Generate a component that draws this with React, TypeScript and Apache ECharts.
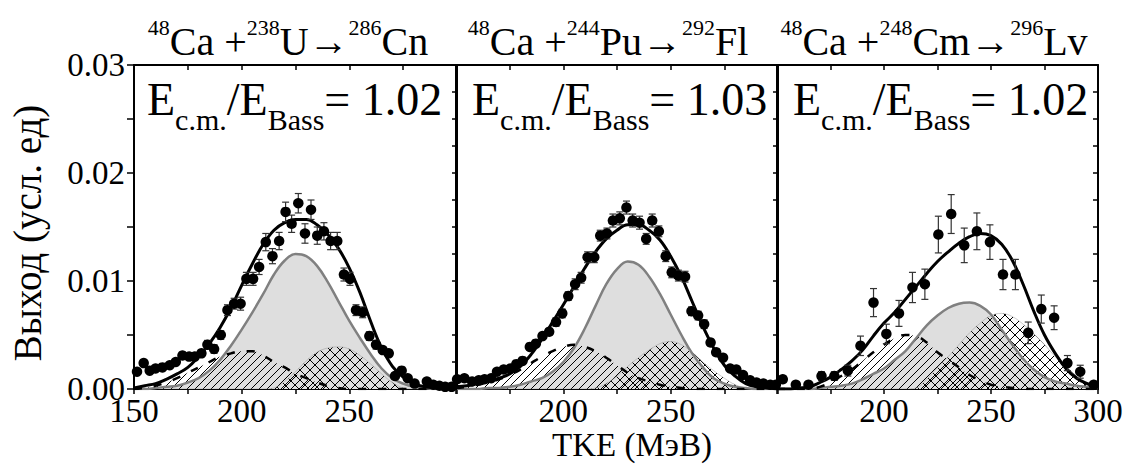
import React, { useEffect, useRef } from "react";
import * as echarts from "echarts";

const FONT = '"Liberation Serif", "Times New Roman", serif';

// Curve sampling grid (TKE, MeV)
const curveE = [150, 155, 160, 165, 170, 175, 180, 185, 190, 195, 200, 205, 210, 215, 220, 225, 230, 235, 240, 245, 250, 255, 260, 265, 270, 275, 280, 285, 290, 295, 300];

// Panel 1: 48Ca + 238U -> 286Cn
const p1Total = [0.0001, 0.0003, 0.0005, 0.0009, 0.0014, 0.002, 0.003, 0.0042, 0.0057, 0.0075, 0.0096, 0.0116, 0.0134, 0.0147, 0.0154, 0.0157, 0.0157, 0.0152, 0.0143, 0.013, 0.0112, 0.0089, 0.0062, 0.0038, 0.0021, 0.0011, 0.0005, 0.0002, 0.0001, 0, 0];
const p1Gray = [0, 0, 0.0001, 0.0002, 0.0003, 0.0006, 0.001, 0.0017, 0.0027, 0.004, 0.0055, 0.0071, 0.0088, 0.0106, 0.0119, 0.0125, 0.0123, 0.0114, 0.0099, 0.0081, 0.0063, 0.0047, 0.0032, 0.0019, 0.001, 0.0005, 0.0002, 0.0001, 0, 0, 0];
const p1Dash = [0, 0.0001, 0.0003, 0.0006, 0.001, 0.0015, 0.002, 0.0025, 0.003, 0.0033, 0.0035, 0.0035, 0.0031, 0.0025, 0.002, 0.0014, 0.001, 0.0006, 0.0003, 0.0001, 0, 0, 0, 0, 0, 0, 0, 0, 0, 0, 0];
const p1Cross = [0, 0, 0, 0, 0, 0, 0, 0, 0, 0, 0, 0, 0, 0.0001, 0.0007, 0.0016, 0.0026, 0.0034, 0.0038, 0.0039, 0.0037, 0.0031, 0.0023, 0.0014, 0.0006, 0.0001, 0, 0, 0, 0, 0];
const p1E = [151.4, 154.5, 157.3, 160, 163.2, 166.6, 169.4, 172.5, 175.6, 178.2, 181.3, 184.1, 187.2, 190.3, 193.4, 196.5, 199.5, 202.2, 205.3, 208.1, 211.2, 214.3, 217.4, 220.4, 223.2, 226.3, 229.4, 232.2, 235.1, 238.2, 241.3, 244.4, 247.5, 250.3, 253.1, 256.2, 259.3, 262.4, 265.5, 268.3, 271.2, 274.3, 277.1, 280.3, 286, 289, 291.8, 294.5, 297.5];
const p1Y = [0.0016, 0.0024, 0.0017, 0.0019, 0.002, 0.0022, 0.0025, 0.0031, 0.003, 0.003, 0.0033, 0.0041, 0.0037, 0.005, 0.0073, 0.0079, 0.0079, 0.0102, 0.0102, 0.0113, 0.0136, 0.0123, 0.0137, 0.0164, 0.0153, 0.0172, 0.0144, 0.0166, 0.0142, 0.0146, 0.0137, 0.0137, 0.0106, 0.0102, 0.0073, 0.0071, 0.0049, 0.0041, 0.0036, 0.0033, 0.0012, 0.0017, 0.001, 0.0005, 0.0007, 0.0004, 0.0003, 0.0002, 0.0002];
const p1Err = [0.0002, 0.0002, 0.0002, 0.0002, 0.0002, 0.0002, 0.0002, 0.0003, 0.0003, 0.0003, 0.0003, 0.0004, 0.0004, 0.0004, 0.0005, 0.0005, 0.0006, 0.0006, 0.0006, 0.0007, 0.0008, 0.0007, 0.0008, 0.0009, 0.0008, 0.0009, 0.0009, 0.0009, 0.0008, 0.0008, 0.0008, 0.0008, 0.0006, 0.0006, 0.0005, 0.0005, 0.0004, 0.0004, 0.0003, 0.0003, 0.0002, 0.0002, 0.0002, 0.0002, 0.0002, 0.0001, 0.0001, 0.0001, 0.0001];

// Panel 2: 48Ca + 244Pu -> 292Fl
const p2Total = [0.0002, 0.0003, 0.0005, 0.0007, 0.001, 0.0014, 0.0021, 0.0032, 0.0046, 0.0062, 0.0078, 0.0095, 0.0112, 0.0127, 0.0139, 0.0147, 0.0152, 0.0152, 0.0147, 0.0138, 0.0123, 0.0104, 0.0081, 0.0058, 0.0038, 0.0022, 0.0012, 0.0005, 0.0002, 0.0001, 0];
const p2Gray = [0, 0, 0, 0.0001, 0.0001, 0.0002, 0.0004, 0.0007, 0.001, 0.0016, 0.0025, 0.0038, 0.0056, 0.0077, 0.0097, 0.0111, 0.0118, 0.0115, 0.0104, 0.0088, 0.0069, 0.005, 0.0033, 0.002, 0.001, 0.0005, 0.0002, 0.0001, 0, 0, 0];
const p2Dash = [0.0001, 0.0002, 0.0004, 0.0006, 0.0009, 0.0013, 0.0018, 0.0024, 0.003, 0.0035, 0.0039, 0.0041, 0.0039, 0.0035, 0.0029, 0.0022, 0.0015, 0.001, 0.0007, 0.0004, 0.0002, 0.0001, 0, 0, 0, 0, 0, 0, 0, 0, 0];
const p2Cross = [0, 0, 0, 0, 0, 0, 0, 0, 0, 0, 0, 0, 0, 0.0001, 0.0005, 0.0012, 0.0021, 0.0029, 0.0036, 0.0042, 0.0044, 0.0041, 0.0034, 0.0025, 0.0017, 0.001, 0.0004, 0.0001, 0, 0, 0];
const p2E = [150.5, 153.9, 157.5, 160.6, 163.3, 166.4, 169.1, 172.2, 175.3, 178.1, 181, 184.4, 187.2, 190.3, 193.4, 196.6, 199.5, 202.3, 205.5, 208.3, 211.3, 214.4, 217.2, 220.3, 223.1, 226.3, 229.4, 232.3, 235.5, 238.6, 241.4, 244.5, 247.7, 250.5, 253.6, 256.7, 259.7, 262.8, 265.6, 268.6, 271.2, 274.4, 277.7, 280.6, 283.7, 287, 290, 293.2, 296.4, 299];
const p2Y = [0.0009, 0.001, 0.0007, 0.0008, 0.0009, 0.001, 0.0016, 0.0018, 0.0019, 0.0023, 0.0026, 0.0039, 0.0042, 0.0049, 0.0053, 0.0062, 0.007, 0.0086, 0.0097, 0.0103, 0.0122, 0.0122, 0.0142, 0.0144, 0.0156, 0.0158, 0.0168, 0.0156, 0.0154, 0.0139, 0.0156, 0.0146, 0.0123, 0.0108, 0.0105, 0.0104, 0.0072, 0.0068, 0.006, 0.0043, 0.0034, 0.0029, 0.0019, 0.0018, 0.0013, 0.0008, 0.0006, 0.0005, 0.0004, 0.0004];
const p2Err = [0.0002, 0.0002, 0.0002, 0.0002, 0.0002, 0.0002, 0.0002, 0.0002, 0.0002, 0.0002, 0.0003, 0.0003, 0.0003, 0.0003, 0.0003, 0.0004, 0.0004, 0.0004, 0.0005, 0.0005, 0.0005, 0.0005, 0.0005, 0.0005, 0.0006, 0.0006, 0.0006, 0.0006, 0.0006, 0.0005, 0.0006, 0.0005, 0.0005, 0.0005, 0.0005, 0.0005, 0.0004, 0.0004, 0.0004, 0.0003, 0.0003, 0.0003, 0.0002, 0.0002, 0.0002, 0.0002, 0.0001, 0.0001, 0.0001, 0.0001];

// Panel 3: 48Ca + 248Cm -> 296Lv
const p3Total = [0, 0, 0.0001, 0.0002, 0.0006, 0.0011, 0.0018, 0.0026, 0.0036, 0.0049, 0.0061, 0.0071, 0.0083, 0.0095, 0.0107, 0.0118, 0.0127, 0.0135, 0.0141, 0.0144, 0.0142, 0.0134, 0.0119, 0.0097, 0.0072, 0.005, 0.0033, 0.0019, 0.001, 0.0005, 0.0001];
const p3Gray = [0, 0, 0, 0, 0.0001, 0.0002, 0.0003, 0.0005, 0.0009, 0.0014, 0.0019, 0.0027, 0.0035, 0.0047, 0.0059, 0.0068, 0.0075, 0.0079, 0.008, 0.0077, 0.0069, 0.0055, 0.0041, 0.0028, 0.0018, 0.0011, 0.0007, 0.0005, 0.0003, 0.0002, 0.0001];
const p3Dash = [0, 0, 0, 0, 0.0002, 0.0006, 0.0012, 0.0018, 0.0026, 0.0034, 0.0041, 0.0047, 0.005, 0.0049, 0.0043, 0.0034, 0.0027, 0.002, 0.0013, 0.0008, 0.0004, 0.0002, 0.0001, 0, 0, 0, 0, 0, 0, 0, 0];
const p3Cross = [0, 0, 0, 0, 0, 0, 0, 0, 0, 0, 0, 0, 0, 0.0001, 0.0009, 0.002, 0.003, 0.0041, 0.0052, 0.0061, 0.0068, 0.007, 0.0067, 0.006, 0.0051, 0.0041, 0.003, 0.0021, 0.0012, 0.0006, 0.0002];
const p3E = [152.7, 158.8, 164.7, 170.8, 176.8, 183.1, 189, 195.1, 201.1, 207, 213.3, 219.1, 225.4, 231.4, 237.5, 243.4, 249.5, 255.6, 261.4, 267.4, 273.5, 279.5, 285.7, 291.7, 298];
const p3Y = [0.0009, 0.0004, 0.0004, 0.0012, 0.0012, 0.0017, 0.004, 0.008, 0.0051, 0.007, 0.0094, 0.0097, 0.0143, 0.0162, 0.0133, 0.0146, 0.0136, 0.0106, 0.0106, 0.0052, 0.0074, 0.0066, 0.0024, 0.0016, 0.0004];
const p3Err = [0.0003, 0.0003, 0.0003, 0.0004, 0.0004, 0.0005, 0.0009, 0.0013, 0.0009, 0.0012, 0.0014, 0.0014, 0.0017, 0.0018, 0.0016, 0.0017, 0.0016, 0.0014, 0.0014, 0.001, 0.0013, 0.0011, 0.0007, 0.0006, 0.0003];

const xTickLabels = [[150, 200, 250], [200, 250], [200, 250, 300]];
const yTickLabels = [0, 0.01, 0.02, 0.03];

const reactions = [
  { a: "48", b: "Ca +", c: "238", d: "U→", e: "286", f: "Cn" },
  { a: "48", b: "Ca +", c: "244", d: "Pu→", e: "292", f: "Fl" },
  { a: "48", b: "Ca +", c: "248", d: "Cm→", e: "296", f: "Lv" },
];
const ratios = ["1.02", "1.03", "1.02"];

const panels = [
  { total: p1Total, gray: p1Gray, dash: p1Dash, cross: p1Cross, E: p1E, Y: p1Y, err: p1Err },
  { total: p2Total, gray: p2Gray, dash: p2Dash, cross: p2Cross, E: p2E, Y: p2Y, err: p2Err },
  { total: p3Total, gray: p3Gray, dash: p3Dash, cross: p3Cross, E: p3E, Y: p3Y, err: p3Err },
];

const layout = [
  { left: 134, width: 323, titleX: 288, textX: 147 },
  { left: 456, width: 322, titleX: 608, textX: 472 },
  { left: 777, width: 321, titleX: 934, textX: 793 },
];

function makePattern(size: number, cross: boolean) {
  const c = document.createElement("canvas");
  c.width = size;
  c.height = size;
  const g = c.getContext("2d")!;
  g.strokeStyle = "#000";
  g.lineWidth = 1;
  g.beginPath();
  g.moveTo(0, size);
  g.lineTo(size, 0);
  g.moveTo(-2, 2);
  g.lineTo(2, -2);
  g.moveTo(size - 2, size + 2);
  g.lineTo(size + 2, size - 2);
  if (cross) {
    g.moveTo(0, 0);
    g.lineTo(size, size);
    g.moveTo(size - 2, -2);
    g.lineTo(size + 2, 2);
    g.moveTo(-2, size - 2);
    g.lineTo(2, size + 2);
  }
  g.stroke();
  return c;
}

const zip = (xs: number[], ys: number[]) => xs.map((x, i) => [x, ys[i]]);

export default function App() {
  const ref = useRef<HTMLDivElement>(null);
  useEffect(() => {
    if (!ref.current) return;
    const chart = echarts.init(ref.current, null, { renderer: "svg" });
    const hatch = makePattern(8, false);
    const crossHatch = makePattern(10, true);

    const grid: any[] = [];
    const xAxis: any[] = [];
    const yAxis: any[] = [];
    const series: any[] = [];
    const graphic: any[] = [];
    const axisLineStyle = { color: "#000", width: 2 };

    layout.forEach((L, i) => {
      grid.push({ left: L.left, width: L.width, top: 65, height: 324 });
      xAxis.push({
        type: "value", gridIndex: i, min: 150, max: 300, interval: 25, position: "bottom",
        axisLine: { show: true, onZero: false, lineStyle: axisLineStyle },
        axisTick: { show: true, inside: false, length: 5, lineStyle: { color: "#000", width: 1.5 } },
        splitLine: { show: false },
        axisLabel: {
          show: true, fontFamily: FONT, fontSize: 33, lineHeight: 22, color: "#000", margin: 11,
          showMinLabel: true, showMaxLabel: true,
          formatter: (v: number) => (xTickLabels[i].includes(v) ? String(v) : ""),
        },
      });
      xAxis.push({
        type: "value", gridIndex: i, min: 150, max: 300, interval: 25, position: "top",
        axisLine: { show: true, onZero: false, lineStyle: axisLineStyle },
        axisTick: { show: true, inside: true, length: 5, lineStyle: { color: "#000", width: 1.5 } },
        splitLine: { show: false }, axisLabel: { show: false },
      });
      yAxis.push({
        type: "value", gridIndex: i, min: 0, max: 0.03, interval: i === 0 ? 0.005 : 0.0025, position: "left",
        axisLine: { show: true, onZero: false, lineStyle: axisLineStyle },
        axisTick: { show: i === 0, inside: false, length: 7, lineStyle: { color: "#000", width: 1.5 } },
        splitLine: { show: false },
        axisLabel: {
          show: i === 0, fontFamily: FONT, fontSize: 33, lineHeight: 20, color: "#000", margin: 9,
          showMinLabel: true, showMaxLabel: true,
          formatter: (v: number) =>
            yTickLabels.some((t) => Math.abs(t - v) < 1e-9) ? v.toFixed(2) : "",
        },
      });
      yAxis.push({
        type: "value", gridIndex: i, min: 0, max: 0.03, interval: 0.0025, position: "right",
        axisLine: { show: true, onZero: false, lineStyle: axisLineStyle },
        axisTick: { show: true, inside: true, length: 5, lineStyle: { color: "#000", width: 1.5 } },
        splitLine: { show: false }, axisLabel: { show: false },
      });

      const P = panels[i];
      const xi = 2 * i;
      const yi = 2 * i;
      const base = { xAxisIndex: xi, yAxisIndex: yi, showSymbol: false, symbol: "none", silent: true, animation: false };
      series.push({
        ...base, type: "line", smooth: 0.4, data: zip(curveE, P.gray), z: 1,
        lineStyle: { width: 0 }, areaStyle: { color: "#dedede", opacity: 1 },
      });
      series.push({
        ...base, type: "line", smooth: 0.4, data: zip(curveE, P.dash), z: 2,
        lineStyle: { width: 0 }, areaStyle: { color: { image: hatch, repeat: "repeat" }, opacity: 1 },
      });
      series.push({
        ...base, type: "line", smooth: 0.4, data: zip(curveE, P.cross), z: 2,
        lineStyle: { width: 0.5, color: "#999" }, areaStyle: { color: { image: crossHatch, repeat: "repeat" }, opacity: 1 },
      });
      series.push({
        ...base, type: "line", smooth: 0.4, data: zip(curveE, P.gray), z: 3,
        lineStyle: { width: 2.5, color: "#808080" },
      });
      series.push({
        ...base, type: "line", smooth: 0.4, data: zip(curveE, P.dash), z: 3,
        lineStyle: { width: 2.5, color: "#000", type: [8, 12] },
      });
      series.push({
        ...base, type: "line", smooth: 0.4, data: zip(curveE, P.total), z: 4,
        lineStyle: { width: 3, color: "#000" },
      });
      series.push({
        type: "custom", xAxisIndex: xi, yAxisIndex: yi, z: 5, silent: true,
        data: P.E.map((e, k) => [e, P.Y[k], P.err[k]]),
        encode: { x: 0, y: 1 },
        renderItem: (params: any, api: any) => {
          const x = api.value(0);
          const y = api.value(1);
          const er = api.value(2);
          const t = api.coord([x, y + er]);
          const b = api.coord([x, y - er]);
          const w = 3.5;
          const st = { stroke: "#333", lineWidth: 1.2 };
          return {
            type: "group",
            children: [
              { type: "line", shape: { x1: t[0], y1: t[1], x2: b[0], y2: b[1] }, style: st },
              { type: "line", shape: { x1: t[0] - w, y1: t[1], x2: t[0] + w, y2: t[1] }, style: st },
              { type: "line", shape: { x1: b[0] - w, y1: b[1], x2: b[0] + w, y2: b[1] }, style: st },
            ],
          };
        },
      });
      series.push({
        type: "scatter", xAxisIndex: xi, yAxisIndex: yi, z: 6, silent: true,
        symbol: "circle", symbolSize: 10.5, itemStyle: { color: "#000", opacity: 1 },
        data: zip(P.E, P.Y),
      });

      const R = reactions[i];
      graphic.push({
        type: "text", x: L.titleX, y: 16, z: 100,
        style: {
          text: `{sup|${R.a}}{m|${R.b}}{sup|${R.c}}{m|${R.d}}{sup|${R.e}}{m|${R.f}}`,
          align: "center", verticalAlign: "top", fill: "#000",
          fontFamily: FONT,
          rich: {
            m: { fontFamily: FONT, fontSize: 40, lineHeight: 45, verticalAlign: "bottom", fill: "#000" },
            sup: { fontFamily: FONT, fontSize: 22, lineHeight: 22, verticalAlign: "top", fill: "#000" },
          },
        },
      });
      graphic.push({
        type: "text", x: L.textX, y: 76, z: 100,
        style: {
          text: `{m|E}{s|c.m.}{m|/E}{s|Bass}{m|= ${ratios[i]}}`,
          align: "left", verticalAlign: "top", fill: "#000",
          fontFamily: FONT,
          rich: {
            m: { fontFamily: FONT, fontSize: 46, lineHeight: 58, verticalAlign: "top", fill: "#000" },
            s: { fontFamily: FONT, fontSize: 30, lineHeight: 30, verticalAlign: "bottom", fill: "#000" },
          },
        },
      });
    });

    graphic.push({
      type: "text", x: 27, y: 233, rotation: Math.PI / 2, z: 100,
      style: { text: "Выход (усл. ед)", fontFamily: FONT, fontSize: 39, fill: "#000", align: "center", verticalAlign: "middle" },
    });
    graphic.push({
      type: "text", x: 632, y: 445, z: 100,
      style: { text: "TKE (МэВ)", fontFamily: FONT, fontSize: 33, lineHeight: 28, fill: "#000", align: "center", verticalAlign: "middle" },
    });

    chart.setOption({
      animation: false,
      backgroundColor: "#fff",
      grid, xAxis, yAxis, series, graphic,
    });
    return () => chart.dispose();
  }, []);
  return (
    <div
      ref={ref}
      style={{ position: "fixed", left: 0, top: 0, width: 1135, height: 464 }}
    />
  );
}
